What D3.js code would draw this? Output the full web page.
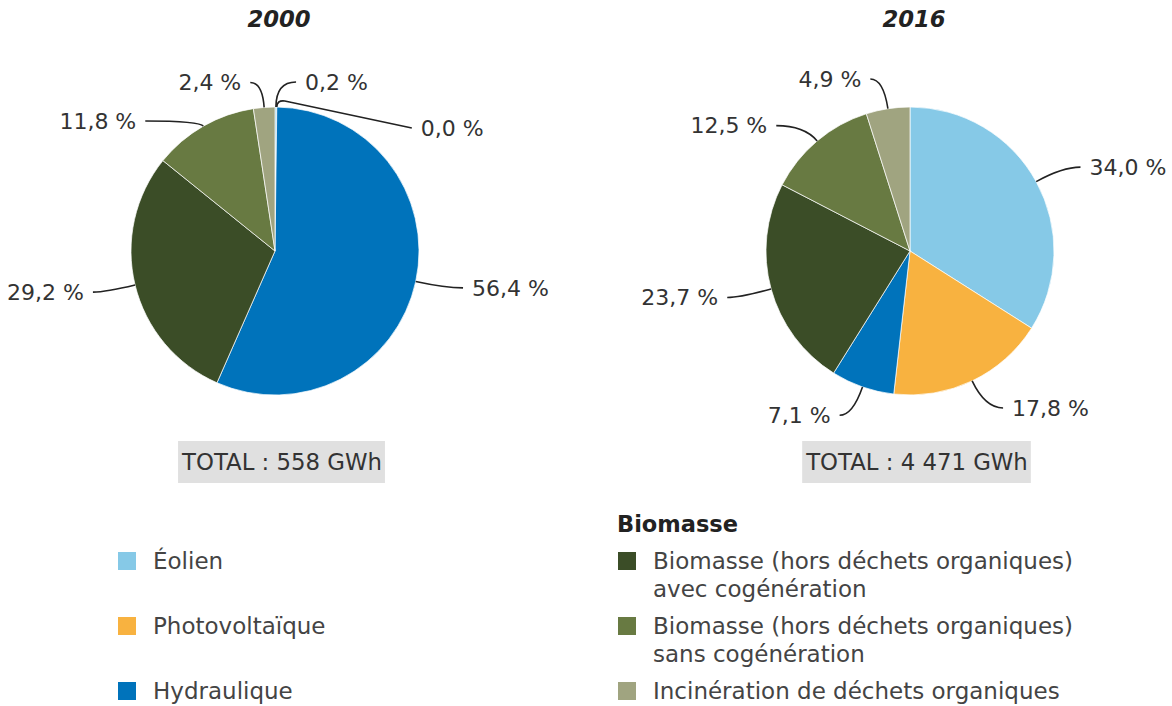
<!DOCTYPE html>
<html>
<head>
<meta charset="utf-8">
<script src="https://cdn.jsdelivr.net/npm/d3@7"></script>
<style>
  body { margin: 0; background: #fff; }
  svg text { font-family: "DejaVu Sans", Verdana, sans-serif; }
</style>
</head>
<body>
<svg id="chart"></svg>
<script>
const width = 1172;
const height = 706;

// data
const categories = [
  "Éolien",
  "Photovoltaïque",
  "Hydraulique",
  "Biomasse (hors déchets organiques) avec cogénération",
  "Biomasse (hors déchets organiques) sans cogénération",
  "Incinération de déchets organiques"
];
const years = ["2000", "2016"];
const values2000 = [0.2, 0.0, 56.4, 29.2, 11.8, 2.4];
const values2016 = [34.0, 17.8, 7.1, 23.7, 12.5, 4.9];
const totals = ["558", "4 471"];
const colors = ["#86c9e7", "#f8b240", "#0073bb", "#3b4d27", "#687a42", "#a0a480"];

// legend text, split on lines
const legendLeft = [["Éolien"], ["Photovoltaïque"], ["Hydraulique"]];
const legendRight = [
  ["Biomasse (hors déchets organiques)", "avec cogénération"],
  ["Biomasse (hors déchets organiques)", "sans cogénération"],
  ["Incinération de déchets organiques"]
];

const svg = d3.select("#chart")
  .attr("width", width)
  .attr("height", height)
  .attr("viewBox", [0, 0, width, height]);

const radius = 144;
const centers = [275, 910];
const cy = 251;

const pie = d3.pie().sort(null).value(d => d);
const arc = d3.arc().innerRadius(0).outerRadius(radius);
const fmt = v => v.toFixed(1).replace(".", ",") + " %";

// tweaks for crowded labels
const labelTweaks = {
  "2000|0": { lead: 25, ext: 20 },
  "2000|1": { free: true, dx: 135, dy: 21 },
  "2000|4": { lead: 6, ext: 55 },
  "2000|5": { lead: 25, ext: 12 },
  "2016|3": { lead: 32 },
  "2016|4": { lead: 20, ext: 28 }
};

[values2000, values2016].forEach((vals, yi) => {
  const cx = centers[yi];
  const g = svg.append("g").attr("transform", `translate(${cx},${cy})`);
  const arcs = pie(vals);

  g.selectAll("path.slice")
    .data(arcs)
    .join("path")
    .attr("class", "slice")
    .attr("d", arc)
    .attr("fill", (d, i) => colors[i])
    .attr("stroke", "#fff")
    .attr("stroke-width", 0.7);

  // leader lines + labels
  arcs.forEach((d, i) => {
    const mid = (d.startAngle + d.endAngle) / 2;
    const tw = labelTweaks[years[yi] + "|" + i] || {};
    const sx = Math.sin(mid), sy = -Math.cos(mid);
    let side = sx >= 0 ? 1 : -1;
    const lead = tw.lead !== undefined ? tw.lead : 30;
    const ext = tw.ext !== undefined ? tw.ext : (side > 0 ? 18 : 13);
    const A = [radius * sx, radius * sy];
    let pathD, C;
    if (tw.free) {
      side = 1;
      C = [A[0] + tw.dx, A[1] + tw.dy];
      pathD = `M${A}Q${[A[0], A[1] - 7]} ${[A[0] + 8, A[1] - 6]}L${C}`;
    } else {
      const B = [(radius + lead) * sx, (radius + lead) * sy];
      C = [B[0] + side * ext, B[1]];
      pathD = `M${A}Q${B} ${C}`;
    }
    g.append("path")
      .attr("d", pathD)
      .attr("fill", "none")
      .attr("stroke", "#222")
      .attr("stroke-width", 1.6);
    g.append("text")
      .attr("x", C[0] + side * 9)
      .attr("y", C[1])
      .attr("dy", "0.35em")
      .attr("text-anchor", side > 0 ? "start" : "end")
      .attr("font-size", 22)
      .attr("fill", "#333")
      .text(fmt(vals[i]));
  });

  // title
  svg.append("text")
    .attr("x", cx + 4)
    .attr("y", 27)
    .attr("text-anchor", "middle")
    .attr("font-size", 22.7)
    .attr("font-weight", "bold")
    .attr("font-style", "italic")
    .attr("fill", "#222")
    .text(years[yi]);

  // total box
  const tg = svg.append("g");
  const rect = tg.append("rect").attr("fill", "#e0e0e0");
  const t = tg.append("text")
    .attr("x", cx + 7)
    .attr("y", 470)
    .attr("text-anchor", "middle")
    .attr("font-size", 22.8)
    .attr("fill", "#333")
    .text(`TOTAL : ${totals[yi]} GWh`);
  const bb = t.node().getBBox();
  rect.attr("x", bb.x - 3).attr("y", 441)
    .attr("width", bb.width + 6).attr("height", 42);
});

// legend
const rowY = [552, 617, 682];
const leg = svg.append("g");

legendLeft.forEach((lines, i) => {
  leg.append("rect")
    .attr("x", 118).attr("y", rowY[i])
    .attr("width", 18).attr("height", 18)
    .attr("fill", colors[i]);
  leg.append("text")
    .attr("x", 153).attr("y", rowY[i] + 17)
    .attr("font-size", 23).attr("fill", "#444")
    .text(lines[0]);
});

leg.append("text")
  .attr("x", 617).attr("y", 532)
  .attr("font-size", 22.5).attr("font-weight", "bold").attr("fill", "#222")
  .text("Biomasse");

legendRight.forEach((lines, i) => {
  leg.append("rect")
    .attr("x", 618).attr("y", rowY[i])
    .attr("width", 18).attr("height", 18)
    .attr("fill", colors[i + 3]);
  lines.forEach((ln, j) => {
    leg.append("text")
      .attr("x", 653).attr("y", rowY[i] + 17 + j * 28)
      .attr("font-size", 23).attr("fill", "#444")
      .text(ln);
  });
});
</script>
</body>
</html>
